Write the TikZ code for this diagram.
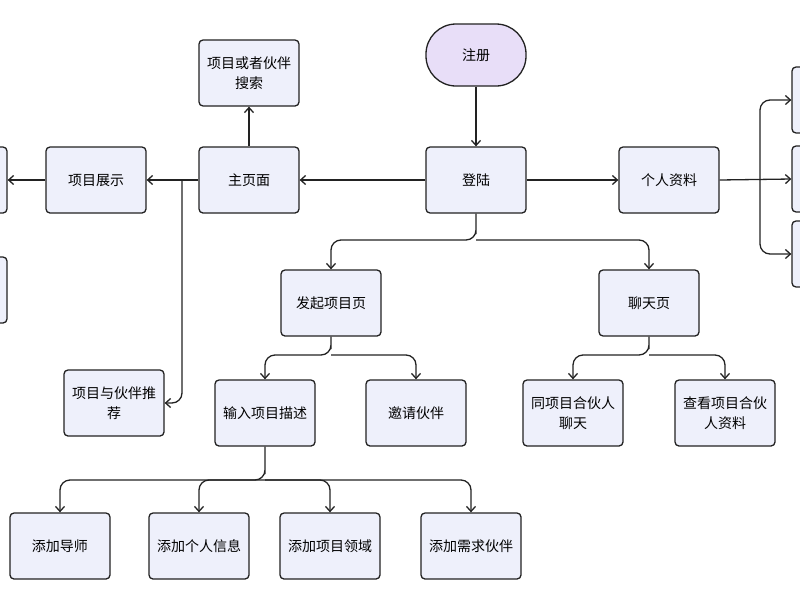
\documentclass[tikz,border=0pt]{standalone}
\usepackage{fontspec}
\setmainfont{Noto Sans CJK SC}
\usetikzlibrary{arrows.meta}
\definecolor{boxfill}{HTML}{EEF0FB}
\definecolor{lav}{HTML}{E8DEF8}
\definecolor{ln}{HTML}{222222}
\begin{document}
\begin{tikzpicture}[x=1pt,y=-1pt,
  box/.style={draw=ln,line width=1.3pt,fill=boxfill,rounded corners=4pt,minimum width=100pt,minimum height=66pt,align=center,font=\fontsize{14}{20}\selectfont,text width=90pt,inner sep=0pt},
  ar/.style={draw=ln,line width=1.3pt,-{Straight Barb[length=5pt,width=9pt]},rounded corners=10pt},
  ln/.style={draw=ln,line width=1.3pt,rounded corners=10pt}]
\useasboundingbox (0,0) rectangle (800,600);
\begin{scope}
\clip (0,0) rectangle (800,600);
\node[box,fill=lav,rounded corners=30pt,minimum height=62pt] (reg) at (476,55) {注册};
\node[box] (login) at (476,180) {登陆};
\node[box] (home) at (249,180) {主页面};
\node[box] (search) at (249,73) {项目或者伙伴\\搜索};
\node[box] (show) at (96,180) {项目展示};
\node[box] (l1) at (-43,180) {};
\node[box] (l2) at (-43,290) {};
\node[box] (prof) at (669,180) {个人资料};
\node[box] (r1) at (842,100) {};
\node[box] (r2) at (842,179) {};
\node[box] (r3) at (842,254) {};
\node[box] (start) at (331,303) {发起项目页};
\node[box] (chat) at (649,303) {聊天页};
\node[box] (rec) at (114,403) {项目与伙伴推\\荐};
\node[box] (input) at (265,413) {输入项目描述};
\node[box] (inv) at (416,413) {邀请伙伴};
\node[box] (pc) at (573,413) {同项目合伙人\\聊天};
\node[box] (pv) at (725,413) {查看项目合伙\\人资料};
\node[box] (b1) at (60,546) {添加导师};
\node[box] (b2) at (199,546) {添加个人信息};
\node[box] (b3) at (330,546) {添加项目领域};
\node[box] (b4) at (471,546) {添加需求伙伴};

\draw[ar] (reg) -- (login);
\draw[ar] (login) -- (home);
\draw[ar] (login) -- (prof);
\draw[ar] (home) -- (search);
\draw[ar] (home) -- (show);
\draw[ar] (show) -- (l1);
\coordinate (hb) at (182,180);
\draw[ar] (hb) |- (rec.east);
\coordinate (lb) at (476,240);
\draw[ar] (login.south) |- (lb) -| (start.north);
\draw[ar] (lb) -| (chat.north);
\coordinate (sb) at (331,355);
\draw[ar] (start.south) |- (sb) -| (input.north);
\draw[ar] (sb) -| (inv.north);
\coordinate (cb) at (649,355);
\draw[ar] (chat.south) |- (cb) -| (pc.north);
\draw[ar] (cb) -| (pv.north);
\coordinate (ib) at (265,480);
\draw[ar] (input.south) |- (ib) -| (b1.north);
\draw[ar] (ib) -| (b2.north);
\draw[ar] (ib) -| (b3.north);
\draw[ar] (ib) -| (b4.north);
\coordinate (pb) at (760,180);
\draw[ar] (prof.east) -- (r2.west);
\draw[ar] (pb) |- (r1.west);
\draw[ar] (pb) |- (r3.west);
\end{scope}
\end{tikzpicture}
\end{document}
